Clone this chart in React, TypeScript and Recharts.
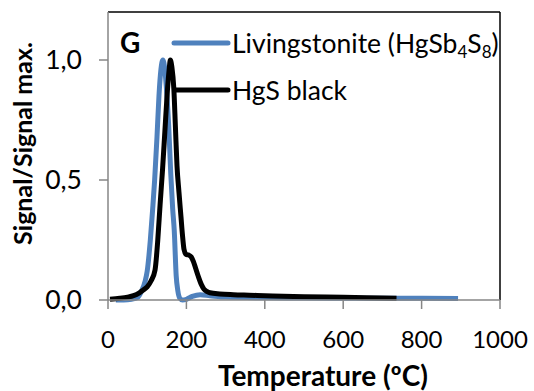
import React from 'react';
import { LineChart, Line, XAxis, YAxis, ReferenceLine, Customized } from 'recharts';

// Normalised Hg release curves (signal / max signal) versus temperature
const livingstoniteTemp = [20, 40, 60, 75, 85, 95, 100, 108, 114, 119, 125, 130, 135, 140, 145, 150, 155, 160, 165, 169, 174, 178, 183, 190, 200, 215, 235, 260, 300, 400, 500, 600, 700, 800, 893];
const livingstoniteSignal = [0.0, 0.0, 0.003, 0.01, 0.035, 0.08, 0.12, 0.25, 0.38, 0.5, 0.68, 0.85, 0.96, 1.0, 0.96, 0.86, 0.72, 0.53, 0.38, 0.29, 0.1, 0.04, 0.008, 0.0, 0.003, 0.015, 0.022, 0.018, 0.012, 0.009, 0.008, 0.007, 0.007, 0.007, 0.006];

const hgsBlackTemp = [5, 30, 50, 65, 80, 90, 100, 110, 120, 127, 133, 139, 145, 151, 156, 159, 163, 168, 172, 176, 181, 186, 190, 194, 199, 205, 212, 218, 224, 230, 238, 245, 252, 260, 285, 320, 360, 420, 500, 600, 700, 736];
const hgsBlackSignal = [0.003, 0.007, 0.012, 0.018, 0.03, 0.042, 0.055, 0.08, 0.125, 0.25, 0.4, 0.54, 0.7, 0.86, 0.96, 1.0, 0.97, 0.88, 0.72, 0.56, 0.45, 0.35, 0.27, 0.21, 0.19, 0.188, 0.18, 0.16, 0.13, 0.1, 0.065, 0.045, 0.036, 0.03, 0.025, 0.022, 0.02, 0.017, 0.014, 0.011, 0.008, 0.007];

const temperatureTicks = [0, 200, 400, 600, 800, 1000];
const signalTicks = [0, 0.5, 1.0];

const toPoints = (temps: number[], signals: number[]) =>
  temps.map((t, i) => ({ temperature: t, signal: signals[i] }));

const livingstoniteData = toPoints(livingstoniteTemp, livingstoniteSignal);
const hgsBlackData = toPoints(hgsBlackTemp, hgsBlackSignal);

const FONT = 'Lato, "Open Sans", sans-serif';
const BLUE = '#4f81bd';
const AXIS_GREY = '#868686';

const formatSignal = (v: number) => v.toFixed(1).replace('.', ',');

const Annotations = () => (
  <g fontFamily={FONT} fill="#000">
    <text x={120} y={53} fontSize={28} fontWeight="bold">G</text>
    <line x1={174} x2={228} y1={43} y2={43} stroke={BLUE} strokeWidth={5} strokeLinecap="round" />
    <text x={232} y={53} fontSize={26.5}>
      Livingstonite (HgSb
      <tspan dy={5} fontSize={17}>4</tspan>
      <tspan dy={-5}>S</tspan>
      <tspan dy={5} fontSize={17}>8</tspan>
      <tspan dy={-5}>)</tspan>
    </text>
    <line x1={175} x2={228} y1={90} y2={90} stroke="#000" strokeWidth={5} strokeLinecap="round" />
    <text x={232} y={100} fontSize={26.5}>HgS black</text>
    <text x={323} y={386} fontSize={28} fontWeight="bold" textAnchor="middle">Temperature (ºC)</text>
    <text transform="translate(32,143.5) rotate(-90)" fontSize={25} fontWeight="bold" textAnchor="middle">
      Signal/Signal max.
    </text>
  </g>
);

export default function App() {
  return (
    <div style={{ position: 'absolute', left: 0, top: 0 }}>
      <LineChart width={534} height={391} margin={{ top: 12, right: 34, left: 0, bottom: 0 }}>
        <XAxis
          type="number"
          dataKey="temperature"
          domain={[0, 1000]}
          ticks={temperatureTicks}
          height={91}
          tickSize={9}
          tickMargin={22}
          axisLine={{ stroke: AXIS_GREY, strokeWidth: 1.5 }}
          tickLine={{ stroke: AXIS_GREY, strokeWidth: 1.5 }}
          tick={{ fill: '#000', fontSize: 24, fontFamily: FONT }}
          allowDuplicatedCategory={false}
        />
        <YAxis
          type="number"
          domain={[0, 1.2]}
          ticks={signalTicks}
          width={108}
          tickSize={9}
          tickMargin={17}
          tickFormatter={formatSignal}
          axisLine={{ stroke: AXIS_GREY, strokeWidth: 1.5 }}
          tickLine={{ stroke: AXIS_GREY, strokeWidth: 1.5 }}
          tick={{ fill: '#000', fontSize: 26.5, fontFamily: FONT }}
        />
        <Line
          data={livingstoniteData}
          dataKey="signal"
          type="monotone"
          stroke={BLUE}
          strokeWidth={5}
          dot={false}
          isAnimationActive={false}
        />
        <Line
          data={hgsBlackData}
          dataKey="signal"
          type="monotone"
          stroke="#000"
          strokeWidth={5}
          dot={false}
          isAnimationActive={false}
        />
        <Customized component={Annotations} />
        <ReferenceLine y={1.2} stroke="#000" strokeWidth={1.5} />
        <ReferenceLine x={1000} stroke="#000" strokeWidth={1.5} />
      </LineChart>
    </div>
  );
}
